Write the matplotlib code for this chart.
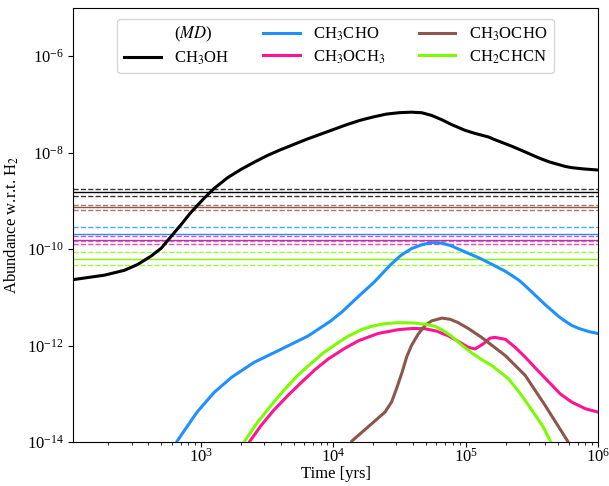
import numpy as np
import matplotlib
matplotlib.use("Agg")
import matplotlib.pyplot as plt

plt.rcParams['font.family'] = ['Liberation Serif', 'DejaVu Serif']
plt.rcParams['mathtext.fontset'] = 'stix'
plt.rcParams['font.size'] = 12

# log10(time [yr]) and log10(abundance)
ch3oh_t = [2.04, 2.27, 2.42, 2.52, 2.62, 2.70, 2.77, 2.85, 2.92, 3.025, 3.10, 3.20, 3.30, 3.40, 3.50, 3.60,
           3.70, 3.80, 3.90, 4.00, 4.10, 4.20, 4.30, 4.40, 4.50, 4.59, 4.667, 4.742, 4.818, 4.894, 4.995,
           5.07, 5.172, 5.22, 5.348, 5.42, 5.551, 5.63, 5.752, 5.80, 5.879, 6.0]
ch3oh_n = [-10.63, -10.54, -10.44, -10.32, -10.15, -9.98, -9.75, -9.49, -9.25, -8.94, -8.74, -8.52, -8.35,
           -8.20, -8.06, -7.94, -7.83, -7.72, -7.62, -7.52, -7.42, -7.33, -7.26, -7.20, -7.17, -7.16, -7.171,
           -7.227, -7.315, -7.418, -7.536, -7.60, -7.674, -7.73, -7.866, -7.95, -8.107, -8.19, -8.285, -8.31,
           -8.334, -8.36]

ch3cho_t = [2.82, 2.97, 3.10, 3.23, 3.40, 3.61, 3.81, 3.98, 4.07, 4.19, 4.31, 4.43, 4.51, 4.59, 4.667,
            4.74, 4.818, 4.89, 4.995, 5.10, 5.197, 5.30, 5.40, 5.45, 5.50, 5.55, 5.60, 5.65, 5.70, 5.75,
            5.80, 5.85, 5.93, 6.0]
ch3cho_n = [-13.98, -13.38, -12.97, -12.66, -12.35, -12.07, -11.80, -11.49, -11.29, -10.98, -10.68, -10.33,
            -10.13, -9.99, -9.91, -9.865, -9.875, -9.93, -10.058, -10.18, -10.313, -10.46, -10.64, -10.76,
            -10.89, -11.02, -11.15, -11.27, -11.39, -11.49, -11.58, -11.64, -11.71, -11.75]

ch2chcn_t = [3.33, 3.429, 3.53, 3.631, 3.73, 3.833, 3.93, 4.036, 4.11, 4.212, 4.29, 4.389, 4.49, 4.60,
             4.70, 4.77, 4.831, 4.89, 4.97, 5.05, 5.12, 5.20, 5.32, 5.40, 5.45, 5.52, 5.58, 5.64]
ch2chcn_n = [-13.98, -13.584, -13.24, -12.911, -12.62, -12.367, -12.14, -11.94, -11.81, -11.67, -11.60,
             -11.545, -11.525, -11.53, -11.56, -11.60, -11.69, -11.80, -11.99, -12.16, -12.29, -12.42,
             -12.68, -12.95, -13.14, -13.42, -13.66, -13.98]

ch3och3_t = [3.37, 3.455, 3.55, 3.657, 3.76, 3.859, 3.96, 4.086, 4.19, 4.338, 4.49, 4.60, 4.69, 4.78,
             4.87, 4.944, 5.02, 5.07, 5.13, 5.184, 5.22, 5.30, 5.374, 5.45, 5.538, 5.63, 5.714, 5.80,
             5.904, 6.0]
ch3och3_n = [-13.98, -13.654, -13.34, -13.035, -12.76, -12.505, -12.28, -12.058, -11.90, -11.749, -11.67,
             -11.645, -11.65, -11.70, -11.80, -11.914, -12.037, -12.07, -11.97, -11.845, -11.83, -11.87,
             -12.037, -12.24, -12.499, -12.76, -13.0, -13.17, -13.309, -13.38]

ch3ocho_t = [4.14, 4.39, 4.44, 4.477, 4.52, 4.553, 4.59, 4.641, 4.69, 4.742, 4.82, 4.881, 4.94, 5.02,
             5.12, 5.30, 5.45, 5.60, 5.77]
ch3ocho_n = [-13.98, -13.38, -13.17, -12.897, -12.55, -12.243, -12.00, -11.763, -11.59, -11.489, -11.43,
             -11.454, -11.52, -11.646, -11.83, -12.21, -12.62, -13.24, -13.98]

# observed abundances: value (solid) and lower/upper bounds (dashed)
obs_ch3oh = [1.56e-9, 1.29e-9, 1.77e-9]
obs_ch3ocho = [7.4e-10, 6.4e-10, 8.4e-10]
obs_ch3cho = [2.09e-10, 1.45e-10, 2.81e-10]
obs_ch3och3 = [1.57e-10, 1.30e-10, 1.84e-10]
obs_ch2chcn = [6.37e-11, 4.63e-11, 8.87e-11]

fig = plt.figure(figsize=(6.09, 4.86), dpi=100)
ax = fig.add_axes([0.120, 0.0905, 0.862, 0.893])

series = [
    (ch3oh_t, ch3oh_n, obs_ch3oh, 'black', r'CH$_3$OH'),
    (ch3cho_t, ch3cho_n, obs_ch3cho, '#1E90FF', r'CH$_3$CHO'),
    (ch3och3_t, ch3och3_n, obs_ch3och3, '#FF1493', r'CH$_3$OCH$_3$'),
    (ch3ocho_t, ch3ocho_n, obs_ch3ocho, '#8c564b', r'CH$_3$OCHO'),
    (ch2chcn_t, ch2chcn_n, obs_ch2chcn, '#7CFC00', r'CH$_2$CHCN'),
]

handles = {}
h0, = ax.plot([], [], color='none', label=r'($MD$)')
for t, n, obs, c, lab in series:
    h, = ax.plot(10 ** np.array(t), 10 ** np.array(n), color=c, lw=2.2, label=lab, zorder=3,
                 solid_joinstyle='round')
    handles[lab] = h
    ax.axhline(obs[0], color=c, lw=1.0, zorder=2)
    ax.axhline(obs[1], color=c, lw=1.0, ls='--', alpha=0.8, zorder=2)
    ax.axhline(obs[2], color=c, lw=1.0, ls='--', alpha=0.8, zorder=2)

ax.set_xscale('log')
ax.set_yscale('log')
ax.set_xlim(108, 1e6)
ax.set_ylim(1e-14, 1e-5)
ax.tick_params(axis='x', pad=1)
ax.set_xlabel('Time [yrs]', labelpad=0)
ax.set_ylabel(r'Abundance w.r.t. H$_2$')

order = [h0, handles[r'CH$_3$OH'], handles[r'CH$_3$CHO'], handles[r'CH$_3$OCH$_3$'],
         handles[r'CH$_3$OCHO'], handles[r'CH$_2$CHCN']]
ax.legend(handles=order, labels=[h.get_label() for h in order], ncol=3, loc='upper center',
          fontsize=12, handlelength=2.2, columnspacing=2.0, labelspacing=0.3,
          bbox_to_anchor=(0.5, 0.995))

fig.savefig('out.png', dpi=100)
